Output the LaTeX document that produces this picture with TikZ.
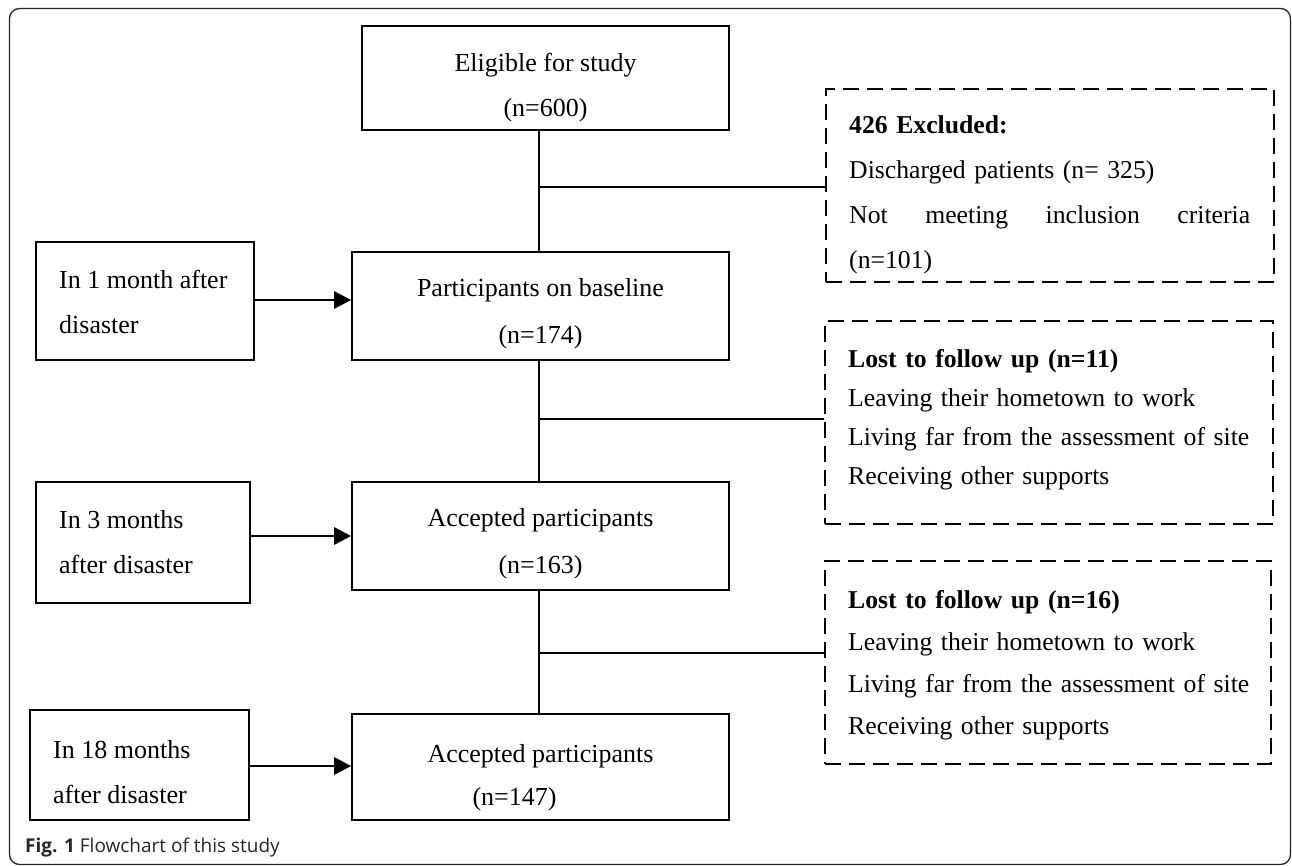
\documentclass[tikz,border=0pt]{standalone}
\usepackage{fontspec}
\setmainfont{Liberation Serif}
\newfontfamily\capfont{Open Sans}
\usetikzlibrary{arrows.meta}
\begin{document}
\begin{tikzpicture}[x=1pt,y=-1pt,
  solidbox/.style={draw, line width=1.6pt, inner sep=0pt},
  dbox/.style={draw, line width=1.6pt, dash pattern=on 16pt off 8pt, inner sep=0pt},
  ctext/.style={align=center, inner sep=0pt, font=\fontsize{26}{47}\selectfont},
  ltext/.style={align=left, anchor=west, inner sep=0pt, font=\fontsize{26}{45}\selectfont},
  dtext/.style={align=left, anchor=west, inner sep=0pt, text width=415pt},
  conn/.style={line width=1.5pt},
  arr/.style={line width=2.6pt, -{Triangle[length=17pt,width=17pt]}}]
\useasboundingbox (0,0) rectangle (1292,866);
\fill[white] (0,0) rectangle (1292,866);
\draw[line width=1.3pt, rounded corners=10pt, black!85] (9.5,8.5) rectangle (1290.5,864.5);

% central column
\node[solidbox, minimum width=367pt, minimum height=104pt] (elig) at (545.5,78) {};
\node[ctext, font=\fontsize{26}{45}\selectfont] (eligt) at (545.5,88) {Eligible for study\\(n=600)};
\node[solidbox, minimum width=377pt, minimum height=108pt] (base) at (540.5,306) {};
\node[ctext] (baset) at (540.5,313.5) {Participants on baseline\\(n=174)};
\node[solidbox, minimum width=377pt, minimum height=108pt] (acc1) at (540.5,536) {};
\node[ctext] (acc1t) at (540.5,544) {Accepted participants\\(n=163)};
\node[solidbox, minimum width=377pt, minimum height=106pt] (acc2) at (540.5,767) {};
\node[ctext, font=\fontsize{26}{43}\selectfont] (acc2t) at (540.5,778) {Accepted participants\\(n=147)\rule{52pt}{0pt}};

% left column
\node[solidbox, minimum width=218pt, minimum height=118pt] (l1) at (145,301) {};
\node[ltext] (l1t) at (59,302) {In 1 month after\\disaster};
\node[solidbox, minimum width=214pt, minimum height=121pt] (l2) at (143,542.5) {};
\node[ltext] (l2t) at (59,542) {In 3 months\\after disaster};
\node[solidbox, minimum width=219pt, minimum height=110pt] (l3) at (139.5,765) {};
\node[ltext] (l3t) at (53,772) {In 18 months\\after disaster};

% dashed boxes
\node[dbox, minimum width=448pt, minimum height=193pt] (ex) at (1050,185.5) {};
\node[dtext, font=\fontsize{25.7}{45}\selectfont] (ext) at (849,195)
  {\textbf{426 Excluded:}\\Discharged patients (n= 325)\\\makebox[401pt]{Not\hfill meeting\hfill inclusion\hfill criteria}\\(n=101)};
\node[dbox, minimum width=448pt, minimum height=203pt] (lf1) at (1049,422.5) {};
\node[dtext, font=\fontsize{25.7}{39}\selectfont] (lf1t) at (848,419.5)
  {\textbf{Lost to follow up (n=11)}\\Leaving their hometown to work\\Living far from the assessment of site\\Receiving other supports};
\node[dbox, minimum width=446pt, minimum height=203pt] (lf2) at (1048,662.5) {};
\node[dtext, font=\fontsize{25.7}{42}\selectfont] (lf2t) at (848,665.5)
  {\textbf{Lost to follow up (n=16)}\\Leaving their hometown to work\\Living far from the assessment of site\\Receiving other supports};

% trunk and branches
\coordinate (j1) at (539,187);
\coordinate (j2) at (539,419);
\coordinate (j3) at (539,653);
\draw[conn] (elig.south -| j1) -- (base.north -| j1);
\draw[conn] (base.south -| j1) -- (acc1.north -| j1);
\draw[conn] (acc1.south -| j1) -- (acc2.north -| j1);
\draw[conn] (j1) -- (j1 -| ex.west);
\draw[conn] (j2) -- (j2 -| lf1.west);
\draw[conn] (j3) -- (j3 -| lf2.west);

% arrows
\coordinate (a1) at (0,300);
\coordinate (a2) at (0,536);
\coordinate (a3) at (0,766);
\draw[arr] (l1.east |- a1) -- (base.west |- a1);
\draw[arr] (l2.east |- a2) -- (acc1.west |- a2);
\draw[arr] (l3.east |- a3) -- (acc2.west |- a3);

% caption
\node[anchor=west, inner sep=0pt, text=black!85, font=\capfont\fontsize{19}{22}\selectfont] (cap) at (25,848)
  {\textbf{Fig. 1} Flowchart of this study};
\end{tikzpicture}
\end{document}
